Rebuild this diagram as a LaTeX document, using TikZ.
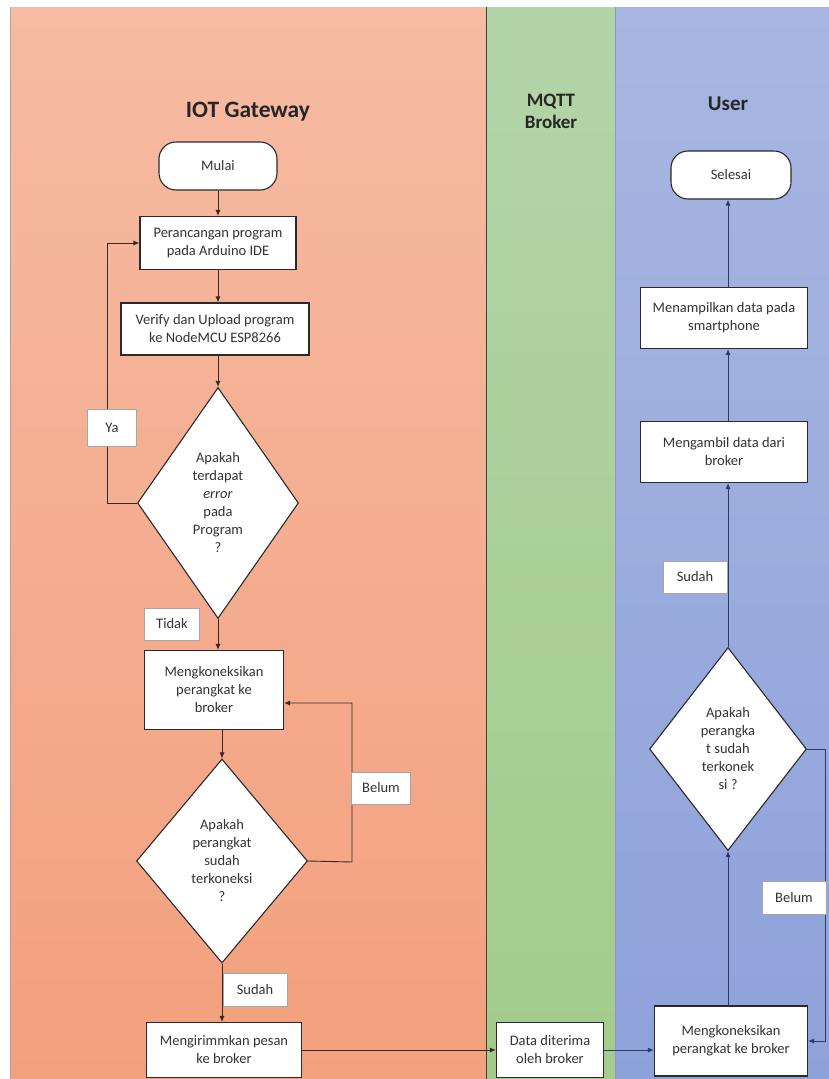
\documentclass[tikz,border=0pt]{standalone}
\usepackage{fontspec}
\setmainfont{Carlito}
\usetikzlibrary{shapes.geometric,arrows.meta}
\definecolor{iotT}{HTML}{F6BBA3}
\definecolor{iotB}{HTML}{F3A07E}
\definecolor{mqT}{HTML}{B3D4A8}
\definecolor{mqB}{HTML}{A2CC8A}
\definecolor{usT}{HTML}{A8B6E1}
\definecolor{usB}{HTML}{8EA2DA}
\definecolor{lnI}{HTML}{3A2A22}
\definecolor{lnU}{HTML}{2C3A6A}
\definecolor{bord}{HTML}{2A2A2A}
\tikzset{
  txt/.style={font=\fontsize{14.5}{18}\selectfont, text=black!80},
  procbox/.style={draw=bord, fill=white, line width=1.1pt, align=center, inner sep=1pt, txt},
  termbox/.style={procbox, rounded corners=17pt},
  decbox/.style={diamond, draw=bord, fill=white, line width=1.1pt, align=center, inner sep=0pt, txt},
  lbl/.style={draw=gray!70, fill=white, line width=0.7pt, align=center, inner sep=1pt, txt},
  flowI/.style={draw=lnI, line width=0.9pt, -{Latex[length=6pt,width=5pt]}},
  flowU/.style={draw=lnU, line width=0.9pt, -{Latex[length=6pt,width=5pt]}},
  lanetitle/.style={font=\fontsize{23.5}{24}\selectfont\bfseries, text=black!85, align=center}
}
\begin{document}
\begin{tikzpicture}[x=1pt,y=-1pt]
\useasboundingbox (0,0) rectangle (829,1079);
\fill[white] (0,0) rectangle (829,1079);
% lanes
\shade[top color=iotT, bottom color=iotB] (10,7) rectangle (486,1079);
\shade[top color=mqT, bottom color=mqB] (486,7) rectangle (615,1079);
\shade[top color=usT, bottom color=usB] (615,7) rectangle (829,1079);
\draw[gray!70, line width=0.8pt] (10,7) -- (10,1079);
\draw[black!75, line width=0.9pt] (486,7) -- (486,1079);
\draw[gray!60!blue!60, line width=0.7pt] (615,7) -- (615,1079);
% titles
\node[lanetitle] (t1) at (248,112) {IOT Gateway};
\node[lanetitle, font=\fontsize{19}{22}\selectfont\bfseries] (t2) at (551,111) {MQTT\\Broker};
\node[lanetitle, font=\fontsize{21}{22}\selectfont\bfseries] (t3) at (728,104) {User};
% IOT gateway nodes
\node[termbox, minimum width=118pt, minimum height=48pt] (mulai) at (218,166) {Mulai};
\node[procbox, minimum width=156pt, minimum height=53pt] (peran) at (218,243) {Perancangan program\\pada Arduino IDE};
\node[procbox, minimum width=188pt, minimum height=52pt] (verify) at (215,329) {Verify dan Upload program\\ke NodeMCU ESP8266};
\node[decbox, minimum width=161pt, minimum height=231pt] (d1) at (218,503) {Apakah\\terdapat\\\textit{error}\\pada\\Program\\?};
\node[procbox, minimum width=139pt, minimum height=79pt] (kon1) at (214,690) {Mengkoneksikan\\perangkat ke\\broker};
\node[decbox, minimum width=171pt, minimum height=204pt] (d2) at (222,861) {Apakah\\perangkat\\sudah\\terkoneksi\\?};
\node[procbox, minimum width=155pt, minimum height=55pt] (kirim) at (224,1050) {Mengirimmkan pesan\\ke broker};
% broker
\node[procbox, minimum width=107pt, minimum height=55pt] (data) at (550,1050) {Data diterima\\oleh broker};
% user
\node[procbox, minimum width=153pt, minimum height=70pt] (kon2) at (731,1041) {Mengkoneksikan\\perangkat ke broker};
\node[decbox, minimum width=157pt, minimum height=203pt] (d3) at (728,749) {Apakah\\perangka\\t sudah\\terkonek\\si ?};
\node[procbox, minimum width=167pt, minimum height=61pt] (ambil) at (724,452) {Mengambil data dari\\broker};
\node[procbox, minimum width=167pt, minimum height=61pt] (tampil) at (724,318) {Menampilkan data pada\\smartphone};
\node[termbox, minimum width=120pt, minimum height=48pt] (selesai) at (731,175) {Selesai};
% coordinates
\coordinate (yaL) at (107,503);
\coordinate (yaT) at (107,243);
\coordinate (blR) at (352,862);
\coordinate (blT) at (352,703);
\coordinate (rR) at (825,749);
\coordinate (rB) at (825,1041);
% IOT connectors
\draw[flowI] (peran.north |- mulai.south) -- (peran.north);
\draw[flowI] (peran.south) -- (peran.south |- verify.north);
\draw[flowI] (peran.south |- verify.south) -- (d1.north);
\draw[flowI] (d1.west) -- (yaL) -- (yaT) -- (peran.west);
\draw[flowI] (d1.south) -- (d1.south |- kon1.north);
\draw[flowI] (d2.north |- kon1.south) -- (d2.north);
\draw[flowI] (d2.east) -- (blR) -- (blT) -- (kon1.east |- blT);
\draw[flowI] (d2.south) -- (d2.south |- kirim.north);
\draw[flowI] (kirim.east) -- (data.west);
% user connectors
\draw[flowU] (data.east) -- (kon2.west |- data.east);
\draw[flowU] (d3.east) -- (rR) -- (rB) -- (kon2.east);
\draw[flowU] (kon2.north -| d3.south) -- (d3.south);
\draw[flowU] (d3.north) -- (d3.north |- ambil.south);
\draw[flowU] (d3.north |- ambil.north) -- (d3.north |- tampil.south);
\draw[flowU] (d3.north |- tampil.north) -- (d3.north |- selesai.south);
% labels
\node[lbl, minimum width=49pt, minimum height=37pt] (ya) at (112,428) {Ya};
\node[lbl, minimum width=55pt, minimum height=32pt] (tidak) at (172,624) {Tidak};
\node[lbl, minimum width=59pt, minimum height=32pt] (belum1) at (381,788) {Belum};
\node[lbl, minimum width=64pt, minimum height=33pt] (sudah1) at (255,990) {Sudah};
\node[lbl, minimum width=64pt, minimum height=33pt] (belum2) at (794,898) {Belum};
\node[lbl, minimum width=64pt, minimum height=32pt] (sudah2) at (695,577) {Sudah};
\end{tikzpicture}
\end{document}
